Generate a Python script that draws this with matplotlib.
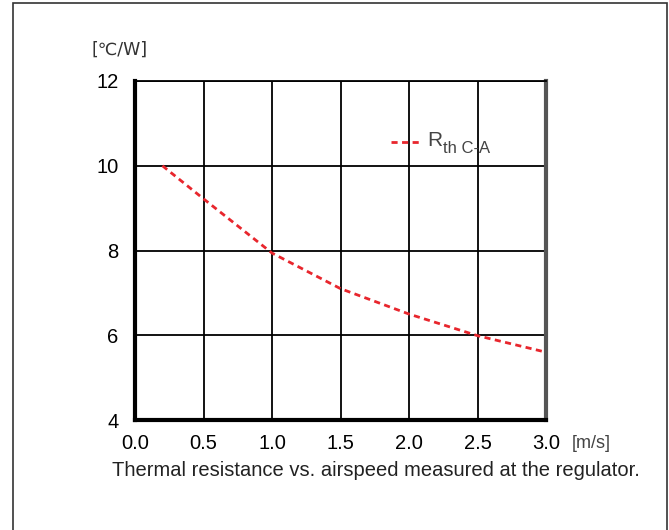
import numpy as np
import matplotlib.pyplot as plt
from matplotlib.patches import Rectangle

# airspeed [m/s] vs thermal resistance case-ambient [C/W]
speed = [0.2, 0.5, 1.0, 1.5, 2.0, 2.5, 3.0]
rth = [10.0, 9.22, 7.94, 7.1, 6.5, 5.99, 5.6]

xticks = [0.0, 0.5, 1.0, 1.5, 2.0, 2.5, 3.0]
yticks = [4, 6, 8, 10, 12]

plt.rcParams['font.family'] = ['Liberation Sans', 'DejaVu Sans']

fig = plt.figure(figsize=(6.69, 5.30), dpi=100)
fig.patches.append(Rectangle((13 / 669, -0.1), (667 - 13) / 669, 1.1 - 3 / 530,
                             transform=fig.transFigure, fill=False,
                             edgecolor='#333333', linewidth=1.2))

ax = fig.add_axes([135 / 669, 1 - 420 / 530, 411 / 669, 339 / 530])
ax.plot(speed, rth, color='#e8262d', linestyle=(0, (2.2, 1.6)), linewidth=2)
ax.set_xlim(0, 3)
ax.set_ylim(4, 12)
ax.set_xticks(xticks)
ax.set_xticklabels(['%.1f' % v for v in xticks])
ax.set_yticks(yticks)
ax.grid(True, color='black', linewidth=1.3)
ax.tick_params(length=0, labelsize=14.5, pad=10)
ax.tick_params(axis='y', pad=12)
ax.spines['left'].set_linewidth(3)
ax.spines['bottom'].set_linewidth(3)
ax.spines['top'].set_linewidth(1.3)
ax.spines['right'].set_linewidth(3)
ax.spines['right'].set_color('#555555')

fig.text(120 / 669, 1 - 50 / 530, '[℃/W]', ha='center', va='center',
         fontsize=12.5, color='#333333', family=['DejaVu Sans'])
fig.text(591 / 669, 1 - 443 / 530, '[m/s]', ha='center', va='center',
         fontsize=13, color='#444444')
fig.text(376 / 669, 1 - 470 / 530,
         'Thermal resistance vs. airspeed measured at the regulator.',
         ha='center', va='center', fontsize=14.5, color='#222222')

# legend entry
ax.plot([1.87, 2.07], [10.55, 10.55], color='#e8262d', linestyle=(0, (2.2, 1.6)),
        linewidth=2)
ax.text(2.13, 10.6, 'R', fontsize=15, color='#444444', va='center')
ax.text(2.25, 10.4, 'th C-A', fontsize=12, color='#444444', va='center')

fig.savefig('out.png', dpi=100)
